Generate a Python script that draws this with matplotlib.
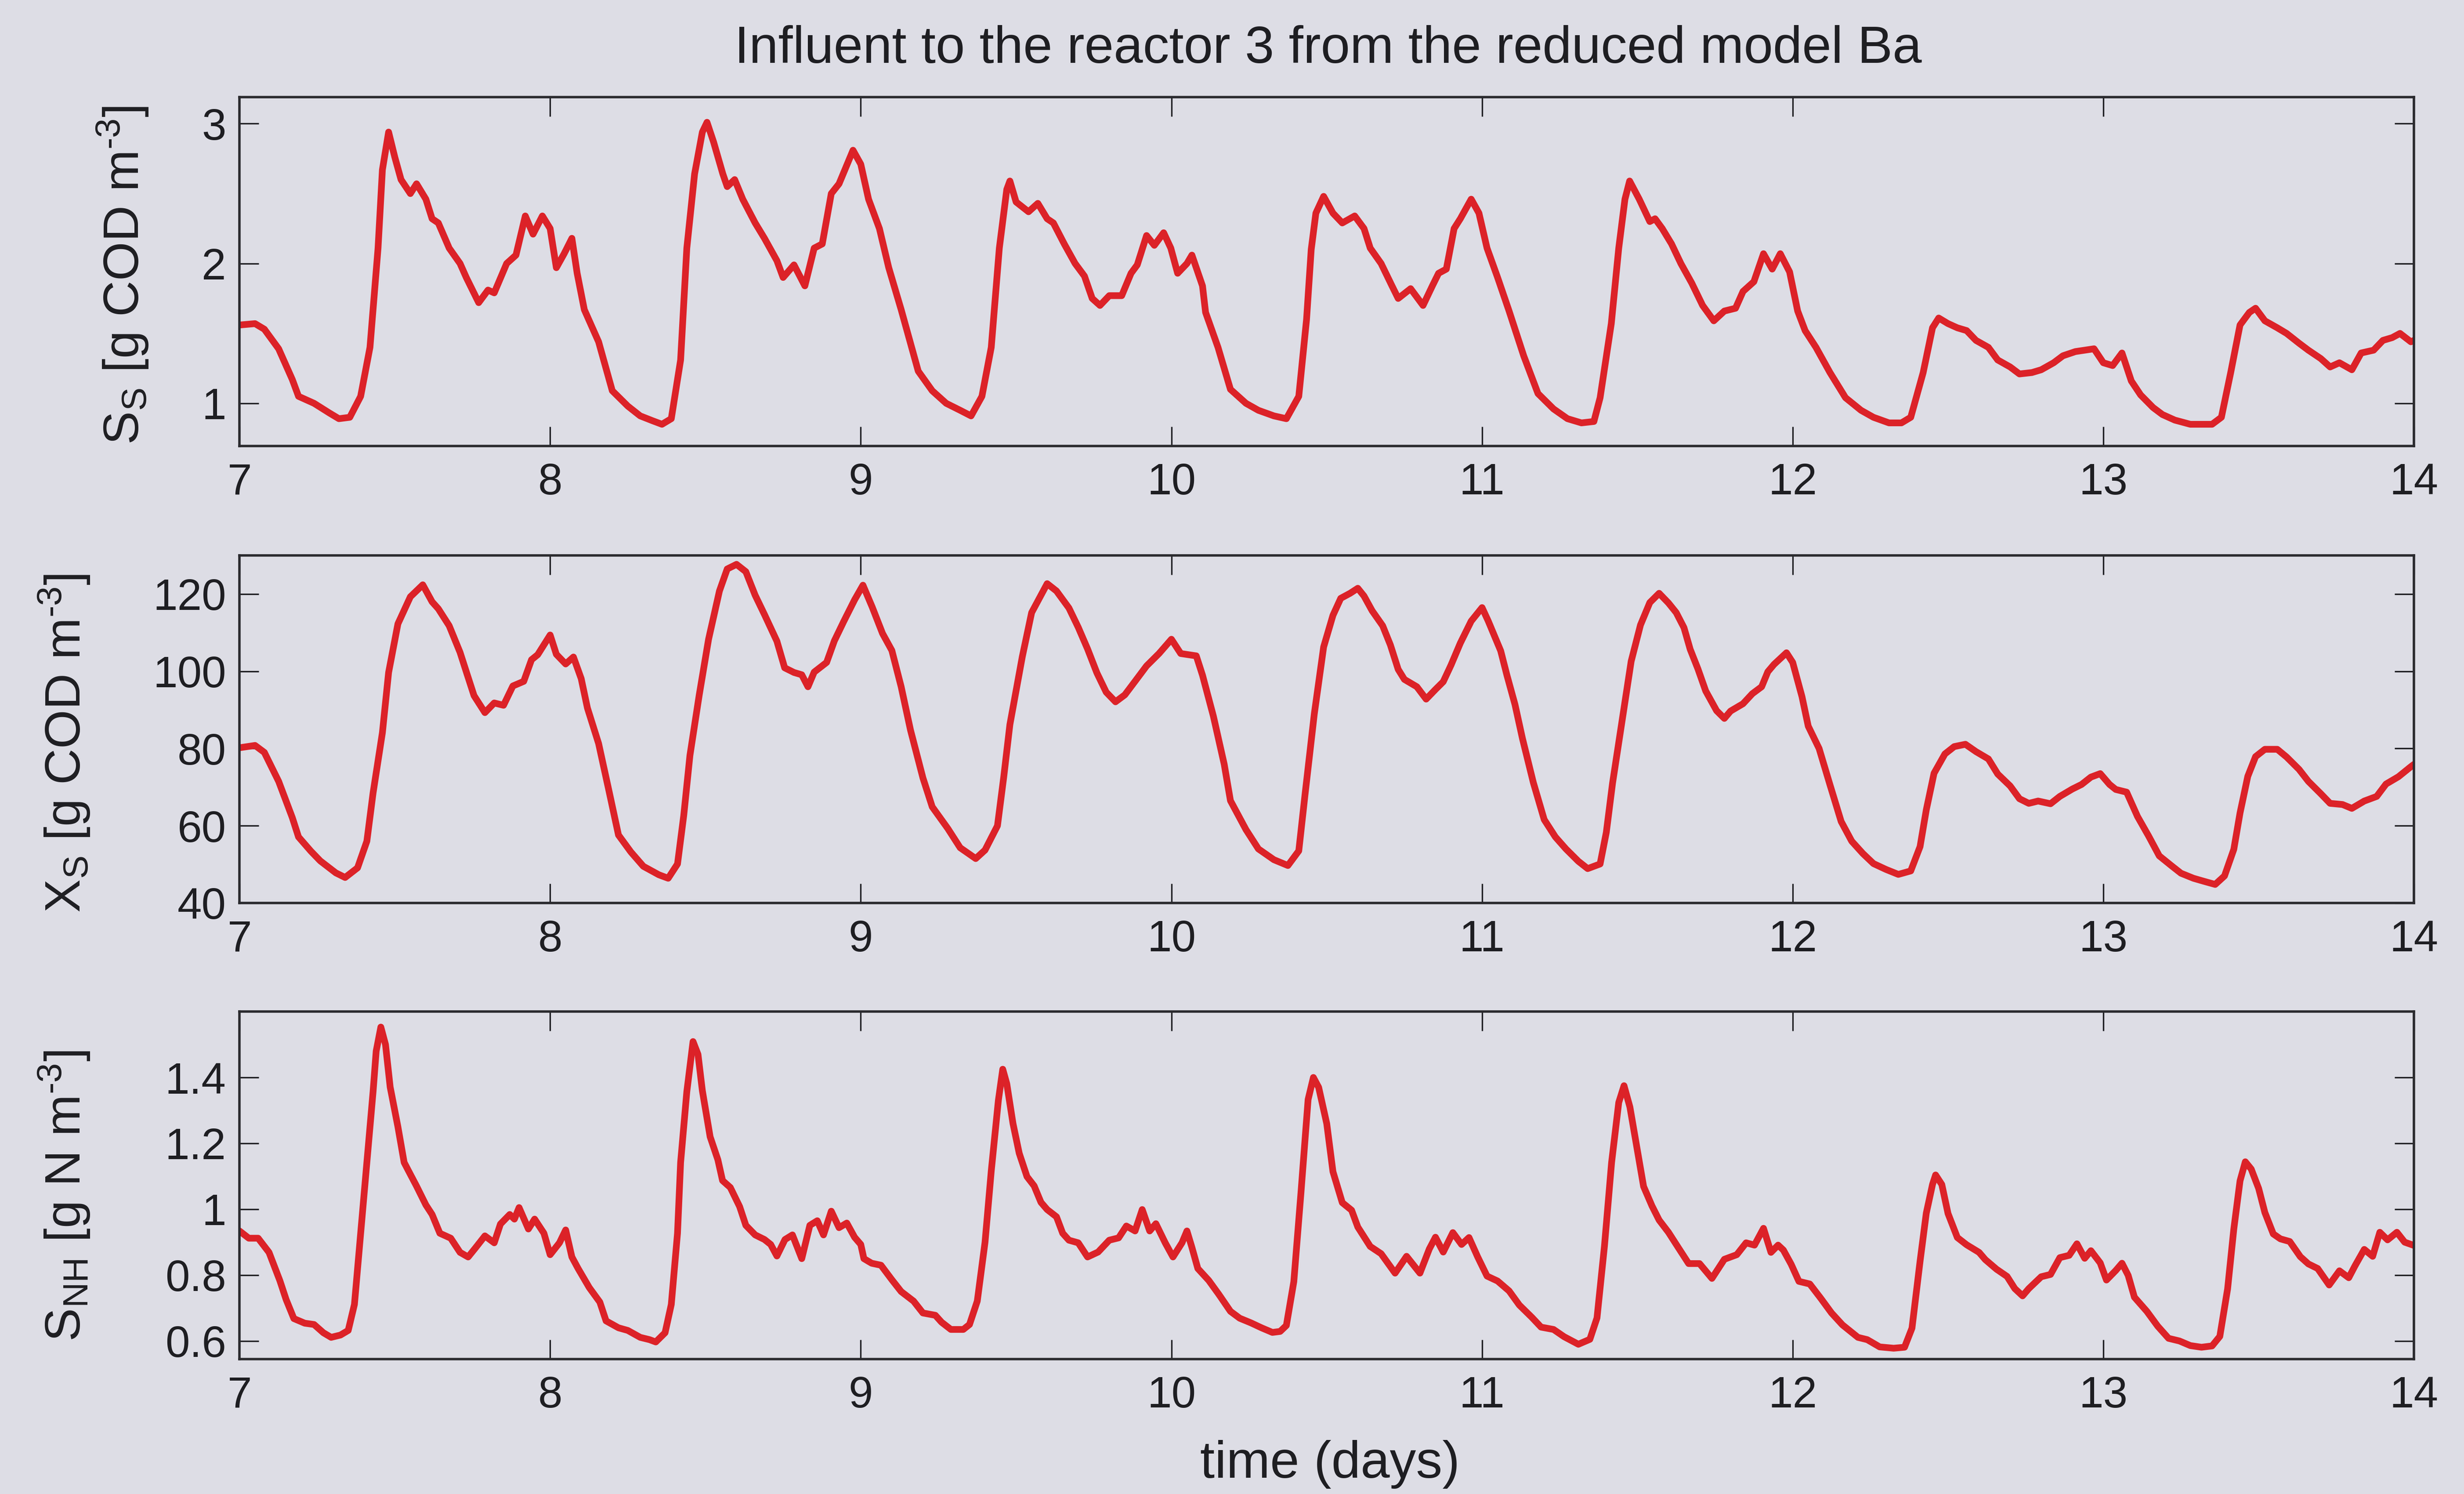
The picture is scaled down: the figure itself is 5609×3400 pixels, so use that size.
import matplotlib.pyplot as plt
from matplotlib.ticker import FuncFormatter

# Readily soluble substrate S_S [g COD m-3]
t_ss = [7.0, 7.05, 7.08, 7.126, 7.17, 7.19, 7.24, 7.29, 7.32, 7.355, 7.39, 7.42, 7.446, 7.46, 7.48,
        7.50, 7.52, 7.55, 7.57, 7.60, 7.62, 7.64, 7.675, 7.71, 7.73, 7.77, 7.80, 7.82, 7.86, 7.89,
        7.92, 7.945, 7.975, 8.00, 8.02, 8.045, 8.07, 8.087, 8.11, 8.156, 8.20, 8.25, 8.29, 8.33, 8.36,
        8.39, 8.42, 8.44, 8.465, 8.49, 8.505, 8.526, 8.556, 8.57, 8.594, 8.62, 8.66, 8.69, 8.73, 8.75,
        8.785, 8.82, 8.85, 8.876, 8.905, 8.93, 8.975, 9.00, 9.025, 9.06, 9.09, 9.13, 9.185, 9.23, 9.275,
        9.32, 9.355, 9.39, 9.42, 9.446, 9.47, 9.48, 9.50, 9.54, 9.57, 9.60, 9.62, 9.655, 9.69, 9.72,
        9.745, 9.77, 9.80, 9.84, 9.87, 9.89, 9.92, 9.945, 9.975, 9.998, 10.02, 10.05, 10.066, 10.10, 10.11,
        10.15, 10.19, 10.24, 10.28, 10.33, 10.37, 10.41, 10.435, 10.45, 10.465, 10.49, 10.52, 10.55, 10.59, 10.62,
        10.64, 10.675, 10.71, 10.73, 10.77, 10.81, 10.84, 10.86, 10.885, 10.91, 10.93, 10.965, 10.99, 11.016, 11.05,
        11.087, 11.134, 11.18, 11.23, 11.275, 11.32, 11.36, 11.38, 11.416, 11.44, 11.46, 11.475, 11.506, 11.54, 11.557,
        11.58, 11.61, 11.64, 11.675, 11.71, 11.746, 11.78, 11.816, 11.84, 11.875, 11.906, 11.934, 11.96, 11.99, 12.016,
        12.04, 12.075, 12.12, 12.17, 12.22, 12.26, 12.31, 12.35, 12.38, 12.42, 12.45, 12.47, 12.50, 12.53, 12.56,
        12.59, 12.63, 12.66, 12.70, 12.73, 12.77, 12.80, 12.84, 12.87, 12.91, 12.94, 12.97, 13.00, 13.03, 13.06,
        13.09, 13.12, 13.16, 13.19, 13.23, 13.28, 13.35, 13.38, 13.41, 13.44, 13.47, 13.49, 13.52, 13.56, 13.59,
        13.63, 13.66, 13.70, 13.73, 13.76, 13.80, 13.83, 13.87, 13.90, 13.93, 13.955, 13.99, 14.0]
ss = [1.56, 1.57, 1.53, 1.39, 1.17, 1.05, 1.00, 0.93, 0.89, 0.90, 1.05, 1.40, 2.11, 2.67, 2.94,
      2.76, 2.60, 2.50, 2.57, 2.46, 2.32, 2.29, 2.11, 2.00, 1.90, 1.72, 1.81, 1.79, 2.00, 2.06,
      2.34, 2.21, 2.34, 2.25, 1.97, 2.07, 2.18, 1.93, 1.67, 1.44, 1.09, 0.98, 0.91, 0.875, 0.85,
      0.89, 1.31, 2.11, 2.64, 2.94, 3.01, 2.87, 2.64, 2.55, 2.60, 2.46, 2.29, 2.18, 2.02, 1.90,
      1.99, 1.84, 2.11, 2.14, 2.50, 2.57, 2.81, 2.71, 2.46, 2.25, 1.97, 1.67, 1.23, 1.09, 1.00,
      0.95, 0.91, 1.05, 1.40, 2.11, 2.53, 2.59, 2.44, 2.37, 2.43, 2.32, 2.29, 2.14, 2.00, 1.91,
      1.75, 1.70, 1.77, 1.77, 1.93, 1.99, 2.20, 2.13, 2.22, 2.11, 1.93, 2.00, 2.06, 1.84, 1.65,
      1.40, 1.10, 1.00, 0.95, 0.91, 0.89, 1.05, 1.60, 2.10, 2.36, 2.48, 2.36, 2.29, 2.34, 2.25,
      2.11, 2.00, 1.84, 1.75, 1.82, 1.70, 1.84, 1.93, 1.96, 2.25, 2.32, 2.46, 2.36, 2.11, 1.90,
      1.66, 1.34, 1.07, 0.96, 0.89, 0.86, 0.87, 1.04, 1.57, 2.11, 2.46, 2.59, 2.46, 2.30, 2.32,
      2.25, 2.14, 2.00, 1.86, 1.70, 1.59, 1.66, 1.68, 1.80, 1.87, 2.07, 1.96, 2.07, 1.94, 1.66,
      1.52, 1.40, 1.22, 1.04, 0.95, 0.90, 0.86, 0.86, 0.90, 1.22, 1.54, 1.61, 1.57, 1.54, 1.52,
      1.45, 1.40, 1.31, 1.26, 1.21, 1.22, 1.24, 1.29, 1.34, 1.37, 1.38, 1.39, 1.29, 1.27, 1.36,
      1.16, 1.06, 0.97, 0.92, 0.88, 0.85, 0.85, 0.90, 1.22, 1.56, 1.65, 1.68, 1.59, 1.54, 1.50,
      1.43, 1.38, 1.32, 1.26, 1.29, 1.24, 1.36, 1.38, 1.45, 1.47, 1.50, 1.44, 1.45]

# Slowly biodegradable substrate X_S [g COD m-3]
t_xs = [7.0, 7.05, 7.08, 7.126, 7.17, 7.19, 7.23, 7.26, 7.31, 7.34, 7.38, 7.41, 7.43, 7.46, 7.48,
        7.51, 7.55, 7.59, 7.62, 7.64, 7.675, 7.71, 7.73, 7.755, 7.79, 7.82, 7.85, 7.88, 7.915, 7.94,
        7.96, 8.00, 8.02, 8.05, 8.075, 8.10, 8.12, 8.156, 8.19, 8.22, 8.26, 8.30, 8.35, 8.38, 8.41,
        8.43, 8.45, 8.48, 8.51, 8.545, 8.57, 8.60, 8.63, 8.66, 8.69, 8.73, 8.755, 8.785, 8.81, 8.83,
        8.85, 8.89, 8.915, 8.945, 8.98, 9.007, 9.037, 9.07, 9.10, 9.13, 9.16, 9.20, 9.23, 9.28, 9.32,
        9.37, 9.40, 9.44, 9.46, 9.48, 9.52, 9.55, 9.60, 9.63, 9.67, 9.70, 9.73, 9.76, 9.79, 9.82,
        9.85, 9.88, 9.92, 9.96, 10.00, 10.03, 10.08, 10.10, 10.135, 10.17, 10.19, 10.24, 10.28, 10.33, 10.375,
        10.41, 10.43, 10.46, 10.49, 10.52, 10.545, 10.575, 10.60, 10.62, 10.646, 10.68, 10.705, 10.73, 10.75, 10.79,
        10.82, 10.85, 10.875, 10.90, 10.93, 10.965, 11.00, 11.02, 11.06, 11.08, 11.106, 11.13, 11.165, 11.20, 11.236,
        11.27, 11.31, 11.34, 11.38, 11.40, 11.42, 11.45, 11.48, 11.51, 11.54, 11.57, 11.60, 11.625, 11.65, 11.67,
        11.695, 11.72, 11.755, 11.78, 11.80, 11.84, 11.87, 11.90, 11.92, 11.94, 11.98, 12.00, 12.03, 12.05, 12.085,
        12.12, 12.156, 12.19, 12.226, 12.26, 12.30, 12.34, 12.38, 12.41, 12.43, 12.455, 12.49, 12.52, 12.556, 12.59,
        12.63, 12.66, 12.70, 12.73, 12.76, 12.79, 12.83, 12.86, 12.90, 12.93, 12.96, 12.99, 13.02, 13.04, 13.075,
        13.11, 13.146, 13.18, 13.22, 13.25, 13.29, 13.32, 13.36, 13.39, 13.42, 13.44, 13.465, 13.49, 13.52, 13.56,
        13.59, 13.63, 13.66, 13.70, 13.73, 13.77, 13.80, 13.84, 13.88, 13.91, 13.95, 13.99, 14.0]
xs = [80.2, 80.8, 79.0, 71.5, 62.1, 57.1, 53.4, 50.9, 47.8, 46.6, 49.1, 56.0, 68.5, 84.1, 99.7,
      112.3, 119.3, 122.4, 118.0, 116.2, 111.8, 104.9, 99.9, 93.7, 89.3, 91.8, 91.2, 96.2, 97.4, 103.0,
      104.3, 109.4, 104.4, 101.9, 103.7, 98.1, 90.5, 81.3, 68.8, 57.6, 53.2, 49.5, 47.3, 46.4, 50.1,
      62.6, 78.2, 93.9, 108.3, 120.8, 126.5, 127.7, 125.8, 119.7, 114.7, 107.8, 100.9, 99.7, 99.1, 96.0,
      99.8, 102.3, 107.9, 112.9, 118.5, 122.3, 116.6, 109.8, 105.4, 96.0, 84.8, 72.4, 64.9, 59.3, 54.3,
      51.5, 53.7, 60.0, 72.5, 86.2, 103.8, 115.2, 122.7, 120.8, 116.4, 111.4, 105.8, 99.6, 94.6, 92.1,
      93.9, 97.1, 101.4, 104.6, 108.3, 104.6, 104.0, 99.0, 88.4, 75.9, 66.5, 59.0, 54.0, 51.2, 49.7,
      53.5, 68.0, 89.0, 106.3, 114.5, 118.9, 120.2, 121.5, 119.5, 115.7, 111.8, 106.8, 100.5, 97.9, 96.0,
      92.8, 95.3, 97.3, 101.6, 107.3, 113.0, 116.5, 113.0, 105.3, 99.0, 91.4, 82.6, 71.2, 61.6, 57.1,
      54.0, 50.8, 48.9, 50.1, 58.3, 71.0, 86.8, 102.6, 112.0, 117.8, 120.2, 117.7, 115.2, 111.3, 105.7,
      100.6, 94.9, 89.8, 87.8, 89.7, 91.6, 94.2, 96.0, 99.9, 101.8, 104.8, 102.3, 93.4, 85.8, 80.0,
      70.6, 61.1, 56.0, 52.8, 50.2, 48.7, 47.4, 48.3, 54.6, 64.1, 73.6, 78.6, 80.5, 81.1, 79.2,
      77.3, 73.4, 70.3, 67.0, 65.8, 66.4, 65.7, 67.6, 69.5, 70.7, 72.6, 73.5, 70.7, 69.4, 68.7,
      62.4, 57.3, 52.2, 49.6, 47.7, 46.4, 45.7, 44.8, 47.0, 53.9, 63.3, 72.8, 77.9, 79.8, 79.8,
      77.8, 74.6, 71.5, 68.3, 65.8, 65.5, 64.5, 66.4, 67.6, 70.8, 72.7, 75.3, 75.9]

# Ammonium S_NH [g N m-3]
t_snh = [7.0, 7.03, 7.06, 7.095, 7.13, 7.15, 7.175, 7.21, 7.24, 7.27, 7.295, 7.325, 7.35, 7.37, 7.39,
         7.41, 7.43, 7.44, 7.455, 7.47, 7.485, 7.51, 7.53, 7.546, 7.57, 7.60, 7.62, 7.645, 7.68, 7.71,
         7.736, 7.76, 7.79, 7.82, 7.84, 7.87, 7.885, 7.90, 7.93, 7.95, 7.98, 8.0, 8.03, 8.05, 8.07,
         8.09, 8.126, 8.16, 8.18, 8.22, 8.25, 8.29, 8.32, 8.34, 8.37, 8.39, 8.41, 8.42, 8.44, 8.46,
         8.476, 8.49, 8.515, 8.54, 8.555, 8.58, 8.61, 8.63, 8.66, 8.69, 8.71, 8.73, 8.756, 8.78, 8.81,
         8.836, 8.86, 8.88, 8.905, 8.93, 8.955, 8.98, 9.0, 9.01, 9.035, 9.065, 9.10, 9.13, 9.17, 9.20,
         9.24, 9.26, 9.29, 9.33, 9.35, 9.375, 9.40, 9.42, 9.443, 9.457, 9.47, 9.49, 9.51, 9.535, 9.558,
         9.58, 9.60, 9.63, 9.65, 9.67, 9.70, 9.73, 9.764, 9.80, 9.83, 9.855, 9.883, 9.906, 9.93, 9.95,
         9.98, 10.005, 10.034, 10.05, 10.066, 10.085, 10.12, 10.153, 10.19, 10.22, 10.256, 10.29, 10.325, 10.35, 10.37,
         10.394, 10.417, 10.44, 10.457, 10.474, 10.50, 10.52, 10.55, 10.58, 10.60, 10.64, 10.675, 10.72, 10.757, 10.80,
         10.83, 10.85, 10.875, 10.906, 10.934, 10.958, 10.986, 11.016, 11.05, 11.087, 11.12, 11.16, 11.19, 11.23, 11.264,
         11.31, 11.347, 11.37, 11.394, 11.417, 11.44, 11.457, 11.476, 11.50, 11.52, 11.547, 11.57, 11.60, 11.63, 11.665,
         11.70, 11.74, 11.78, 11.82, 11.85, 11.877, 11.906, 11.93, 11.953, 11.97, 11.995, 12.02, 12.055, 12.09, 12.125,
         12.16, 12.21, 12.24, 12.28, 12.325, 12.36, 12.384, 12.41, 12.43, 12.45, 12.46, 12.48, 12.50, 12.53, 12.56,
         12.60, 12.62, 12.656, 12.69, 12.715, 12.74, 12.76, 12.80, 12.83, 12.86, 12.89, 12.915, 12.94, 12.96, 12.99,
         13.01, 13.04, 13.06, 13.08, 13.10, 13.14, 13.175, 13.21, 13.245, 13.28, 13.316, 13.35, 13.375, 13.40, 13.42,
         13.44, 13.457, 13.476, 13.50, 13.52, 13.547, 13.57, 13.60, 13.634, 13.66, 13.69, 13.727, 13.76, 13.79, 13.81,
         13.84, 13.867, 13.89, 13.915, 13.945, 13.97, 14.0]
snh = [0.934, 0.912, 0.912, 0.869, 0.783, 0.726, 0.668, 0.654, 0.650, 0.625, 0.611, 0.618, 0.632, 0.711, 0.927,
       1.142, 1.357, 1.48, 1.553, 1.50, 1.371, 1.25, 1.142, 1.113, 1.07, 1.013, 0.984, 0.927, 0.912, 0.869,
       0.855, 0.883, 0.919, 0.898, 0.955, 0.984, 0.970, 1.005, 0.94, 0.97, 0.927, 0.862, 0.898, 0.937, 0.855,
       0.82, 0.762, 0.718, 0.661, 0.64, 0.632, 0.611, 0.604, 0.597, 0.625, 0.711, 0.927, 1.142, 1.357, 1.509,
       1.47, 1.36, 1.22, 1.15, 1.087, 1.066, 1.008, 0.951, 0.922, 0.908, 0.893, 0.858, 0.908, 0.922, 0.85,
       0.951, 0.965, 0.922, 0.994, 0.944, 0.958, 0.915, 0.893, 0.85, 0.836, 0.83, 0.786, 0.75, 0.721, 0.685,
       0.678, 0.657, 0.635, 0.635, 0.65, 0.721, 0.90, 1.116, 1.331, 1.425, 1.381, 1.26, 1.17, 1.099, 1.071,
       1.021, 0.999, 0.977, 0.927, 0.906, 0.898, 0.855, 0.87, 0.906, 0.913, 0.949, 0.934, 0.999, 0.934, 0.956,
       0.898, 0.855, 0.898, 0.934, 0.884, 0.82, 0.784, 0.741, 0.69, 0.669, 0.655, 0.64, 0.626, 0.629, 0.647,
       0.78, 1.05, 1.333, 1.40, 1.37, 1.26, 1.114, 1.02, 0.997, 0.946, 0.887, 0.865, 0.806, 0.857, 0.806,
       0.879, 0.915, 0.87, 0.929, 0.893, 0.914, 0.855, 0.797, 0.782, 0.752, 0.709, 0.672, 0.642, 0.635, 0.613,
       0.59, 0.605, 0.67, 0.888, 1.142, 1.324, 1.375, 1.31, 1.179, 1.069, 1.01, 0.967, 0.93, 0.886, 0.835,
       0.835, 0.79, 0.848, 0.862, 0.898, 0.891, 0.942, 0.869, 0.891, 0.876, 0.833, 0.781, 0.773, 0.73, 0.685,
       0.649, 0.611, 0.604, 0.582, 0.578, 0.581, 0.639, 0.842, 0.988, 1.075, 1.104, 1.075, 0.987, 0.914, 0.892,
       0.869, 0.847, 0.818, 0.796, 0.759, 0.737, 0.759, 0.795, 0.802, 0.853, 0.86, 0.895, 0.851, 0.874, 0.837,
       0.785, 0.814, 0.836, 0.799, 0.733, 0.69, 0.645, 0.608, 0.60, 0.586, 0.581, 0.585, 0.614, 0.758, 0.94,
       1.086, 1.144, 1.122, 1.063, 0.99, 0.925, 0.91, 0.902, 0.856, 0.834, 0.82, 0.77, 0.813, 0.792, 0.828,
       0.878, 0.857, 0.93, 0.907, 0.93, 0.9, 0.89]

day_ticks = list(range(7, 15))
ss_ticks = [1, 2, 3]
xs_ticks = [40, 60, 80, 100, 120]
snh_ticks = [0.6, 0.8, 1.0, 1.2, 1.4]

bg = '#dddde5'
red = '#dc2228'
ink = '#1e1e22'

plt.rcParams['font.family'] = 'Liberation Sans'
plt.rcParams['mathtext.fontset'] = 'custom'
plt.rcParams['mathtext.rm'] = 'Liberation Sans'
plt.rcParams['mathtext.it'] = 'Liberation Sans'
plt.rcParams['mathtext.default'] = 'regular'

fig = plt.figure(figsize=(56.09, 34.0), dpi=100, facecolor=bg)

panels = [
    (t_ss, ss, ss_ticks, (0.695, 3.19), r'S$_S$ [g COD m$^{\text{-}3}$]', -0.041, 0.49,
     [0.0972, 0.7015, 0.8825, 0.2335]),
    (t_xs, xs, xs_ticks, (40, 130), r'X$_S$ [g COD m$^{\text{-}3}$]', -0.068, 0.46,
     [0.0972, 0.3956, 0.8825, 0.2326]),
    (t_snh, snh, snh_ticks, (0.545, 1.6), r'S$_{NH}$ [g N m$^{\text{-}3}$]', -0.068, 0.47,
     [0.0972, 0.0903, 0.8825, 0.2326]),
]

for t, v, yt, ylim, ylab, labx, laby, pos in panels:
    ax = fig.add_axes(pos)
    ax.set_facecolor(bg)
    ax.plot(t, v, color=red, lw=11, solid_joinstyle='round', solid_capstyle='round')
    ax.set_xlim(7, 14)
    ax.set_xticks(day_ticks)
    ax.set_ylim(*ylim)
    ax.set_yticks(yt)
    ax.yaxis.set_major_formatter(FuncFormatter(lambda y, p: f'{y:g}'))
    ax.tick_params(direction='in', length=32, width=2.4, top=True, right=True,
                   labelsize=72, colors=ink)
    ax.tick_params(axis='x', pad=27)
    ax.tick_params(axis='y', pad=22)
    for s in ax.spines.values():
        s.set_linewidth(4)
        s.set_color('#2a2a2e')
    ax.set_ylabel(ylab, fontsize=82, color=ink)
    ax.yaxis.set_label_coords(labx, laby)

fig.text(0.539, 0.958, 'Influent to the reactor 3 from the reduced model Ba',
         ha='center', va='baseline', fontsize=86, color=ink)
fig.text(0.5397, 0.011, 'time (days)', ha='center', va='baseline', fontsize=86, color=ink)

fig.savefig('out.png', dpi=100, facecolor=bg)
